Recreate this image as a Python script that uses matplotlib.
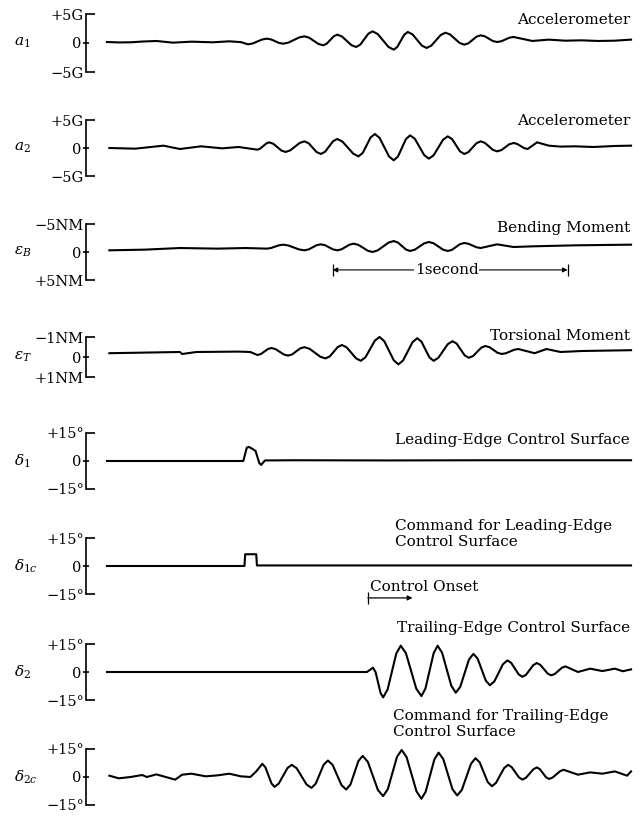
import matplotlib.pyplot as plt

# strip-chart records; time in seconds from the start of the record
a1_t = [0.00, 0.05, 0.10, 0.15, 0.21, 0.28, 0.36, 0.45, 0.52, 0.57,
        0.60, 0.62, 0.66, 0.68, 0.698, 0.732, 0.75, 0.772, 0.818, 0.84,
        0.86, 0.90, 0.92, 0.935, 0.965, 0.98, 1.00, 1.04, 1.06, 1.078,
        1.112, 1.13, 1.152, 1.198, 1.22, 1.235, 1.265, 1.28, 1.30, 1.34,
        1.36, 1.38, 1.42, 1.44, 1.46, 1.50, 1.52, 1.538, 1.572, 1.59,
        1.608, 1.642, 1.66, 1.678, 1.712, 1.73, 1.81, 1.88, 1.95, 2.02,
        2.09, 2.16, 2.23]
a1_v = [0.17, 0.10, 0.12, 0.25, 0.35, 0.06, 0.23, 0.12, 0.29, 0.15,
        -0.23, -0.08, 0.60, 0.75, 0.62, 0.01, -0.12, 0.07, 0.96, 1.15,
        0.92, -0.17, -0.40, -0.12, 1.16, 1.44, 1.12, -0.37, -0.69, -0.28,
        1.60, 2.01, 1.54, -0.68, -1.15, -0.69, 1.44, 1.90, 1.49, -0.45,
        -0.86, -0.46, 1.38, 1.78, 1.47, 0.02, -0.29, -0.05, 1.08, 1.32,
        1.15, 0.34, 0.17, 0.30, 0.91, 1.04, 0.35, 0.58, 0.40, 0.46,
        0.35, 0.40, 0.58]  # G

a2_t = [0.01, 0.12, 0.24, 0.31, 0.40, 0.49, 0.56, 0.64, 0.652, 0.678,
        0.69, 0.708, 0.742, 0.76, 0.78, 0.82, 0.84, 0.858, 0.892, 0.91,
        0.928, 0.962, 0.98, 1.002, 1.048, 1.07, 1.088, 1.122, 1.14, 1.16,
        1.20, 1.22, 1.238, 1.272, 1.29, 1.31, 1.35, 1.37, 1.39, 1.43,
        1.45, 1.468, 1.502, 1.52, 1.538, 1.572, 1.59, 1.608, 1.642, 1.66,
        1.678, 1.712, 1.73, 1.745, 1.775, 1.79, 1.83, 1.88, 1.93, 1.99,
        2.07, 2.16, 2.23]
a2_v = [0.00, -0.12, 0.42, -0.18, 0.30, -0.06, 0.18, -0.30, -0.10, 0.81,
        1.01, 0.75, -0.45, -0.71, -0.42, 0.90, 1.19, 0.85, -0.73, -1.07,
        -0.67, 1.21, 1.61, 1.14, -1.02, -1.49, -0.89, 1.90, 2.50, 1.80,
        -1.50, -2.20, -1.53, 1.59, 2.26, 1.64, -1.28, -1.90, -1.30, 1.48,
        2.08, 1.61, -0.60, -1.07, -0.73, 0.85, 1.19, 0.92, -0.33, -0.60,
        -0.38, 0.67, 0.89, 0.73, -0.02, -0.18, 1.01, 0.42, 0.25, 0.30,
        0.18, 0.36, 0.42]  # G

eb_t = [0.01, 0.16, 0.31, 0.47, 0.59, 0.68, 0.698, 0.732, 0.75, 0.772,
        0.818, 0.84, 0.858, 0.892, 0.91, 0.928, 0.962, 0.98, 0.998, 1.032,
        1.05, 1.07, 1.11, 1.13, 1.152, 1.198, 1.22, 1.238, 1.272, 1.29,
        1.31, 1.35, 1.37, 1.39, 1.43, 1.45, 1.468, 1.502, 1.52, 1.538,
        1.572, 1.59, 1.66, 1.73, 1.81, 1.99, 2.23]
eb_v = [-0.30, -0.42, -0.71, -0.60, -0.71, -0.60, -0.71, -1.20, -1.31, -1.16,
        -0.45, -0.30, -0.46, -1.21, -1.37, -1.21, -0.46, -0.30, -0.48, -1.31,
        -1.49, -1.27, -0.22, 0.00, -0.29, -1.67, -1.96, -1.69, -0.45, -0.18,
        -0.42, -1.55, -1.79, -1.55, -0.42, -0.18, -0.39, -1.40, -1.61, -1.47,
        -0.85, -0.71, -1.37, -0.89, -1.01, -1.19, -1.31]  # NM

et_t = [0.01, 0.16, 0.31, 0.32, 0.38, 0.56, 0.61, 0.64, 0.655, 0.685,
        0.70, 0.718, 0.752, 0.77, 0.788, 0.822, 0.84, 0.862, 0.908, 0.93,
        0.948, 0.982, 1.00, 1.02, 1.06, 1.08, 1.10, 1.14, 1.16, 1.18,
        1.22, 1.24, 1.26, 1.30, 1.32, 1.338, 1.372, 1.39, 1.41, 1.45,
        1.47, 1.488, 1.522, 1.54, 1.558, 1.592, 1.61, 1.628, 1.662, 1.68,
        1.698, 1.732, 1.75, 1.82, 1.87, 1.93, 2.02, 2.23]
et_v = [-0.19, -0.22, -0.25, -0.15, -0.25, -0.27, -0.25, -0.10, -0.15, -0.40,
        -0.45, -0.39, -0.13, -0.07, -0.13, -0.43, -0.49, -0.41, -0.01, 0.07,
        -0.03, -0.50, -0.60, -0.48, 0.07, 0.19, 0.01, -0.82, -1.00, -0.79,
        0.16, 0.37, 0.17, -0.74, -0.94, -0.77, 0.02, 0.19, 0.04, -0.64,
        -0.79, -0.67, -0.08, 0.04, -0.05, -0.46, -0.55, -0.49, -0.21, -0.15,
        -0.19, -0.36, -0.40, -0.19, -0.40, -0.25, -0.30, -0.34]  # NM

d1_t = [0.00, 0.30, 0.58, 0.595, 0.605, 0.62, 0.632, 0.648, 0.656, 0.672, 0.80, 1.20, 1.60, 2.23]
d1_v = [0.0, 0.0, 0.0, 7.2, 7.5, 6.4, 5.4, -1.1, -2.1, 0.3, 0.4, 0.3, 0.4, 0.4]  # deg

d1c_t = [0.00, 0.585, 0.588, 0.635, 0.638, 1.20, 2.23]
d1c_v = [0.0, 0.0, 6.3, 6.3, 0.3, 0.3, 0.3]  # deg

d2_t = [0.00, 0.60, 1.106, 1.132, 1.143, 1.164, 1.175, 1.194, 1.231, 1.250,
        1.272, 1.316, 1.338, 1.355, 1.390, 1.407, 1.426, 1.465, 1.484, 1.503,
        1.540, 1.559, 1.577, 1.612, 1.629, 1.648, 1.685, 1.704, 1.720, 1.752,
        1.768, 1.783, 1.814, 1.829, 1.844, 1.875, 1.890, 1.905, 1.936, 1.951,
        2.004, 2.056, 2.108, 2.161, 2.195, 2.230]
d2_v = [0.0, 0.0, 0.0, 2.3, -0.1, -11.2, -13.6, -9.4, 9.9, 14.1,
        10.1, -8.9, -12.9, -8.9, 10.1, 14.1, 10.3, -7.3, -11.1, -8.0,
        6.6, 9.7, 7.2, -4.6, -7.1, -5.1, 4.2, 6.2, 4.9, -1.3,
        -2.6, -1.5, 3.7, 4.8, 3.8, -0.8, -1.8, -1.1, 2.3, 3.0,
        0.0, 1.8, 0.5, 1.8, 0.4, 1.4]  # deg

d2c_t = [0.01, 0.05, 0.10, 0.15, 0.17, 0.21, 0.24, 0.29, 0.32, 0.36,
         0.42, 0.47, 0.52, 0.57, 0.61, 0.635, 0.661, 0.674, 0.700, 0.713,
         0.731, 0.768, 0.786, 0.807, 0.849, 0.870, 0.888, 0.922, 0.940, 0.960,
         0.998, 1.018, 1.036, 1.070, 1.088, 1.110, 1.153, 1.175, 1.195, 1.234,
         1.254, 1.275, 1.317, 1.338, 1.356, 1.393, 1.411, 1.431, 1.470, 1.490,
         1.510, 1.549, 1.568, 1.586, 1.620, 1.638, 1.655, 1.690, 1.707, 1.722,
         1.753, 1.768, 1.783, 1.814, 1.829, 1.842, 1.868, 1.881, 1.896, 1.928,
         1.943, 2.004, 2.056, 2.108, 2.161, 2.213, 2.23]
d2c_v = [0.71, -0.71, 0.0, 1.06, 0.0, 1.41, 0.35, -1.41, 1.24, 1.77,
         0.35, 0.88, 1.77, 0.35, 0.0, 3.0, 7.06, 5.2, -3.45, -5.30,
         -3.5, 4.8, 6.53, 4.7, -4.0, -5.83, -3.6, 6.6, 8.83, 6.5,
         -4.4, -6.71, -4.0, 8.6, 11.30, 8.1, -7.0, -10.24, -6.5, 10.8,
         14.47, 10.6, -7.7, -11.65, -7.9, 9.4, 13.06, 9.6, -6.5, -9.89,
         -6.9, 7.1, 10.06, 7.8, -2.7, -4.94, -3.2, 4.8, 6.53, 5.3,
         -0.2, -1.41, -0.4, 4.1, 5.12, 4.2, -0.1, -1.06, -0.3, 3.1,
         3.88, 1.24, 2.47, 1.77, 3.0, 0.71, 3.0]  # deg

bar_start, bar_len = 0.96, 1.0      # the "1second" scale bar
onset_t, onset_len = 1.11, 0.19     # control onset marker

# layout in pixels of the original page
W, H = 640, 817
X0, PX_PER_S = 107, 235
AX_LEFT, AX_RIGHT = 86, 636

plt.rcParams['font.family'] = 'DejaVu Serif'
plt.rcParams['mathtext.fontset'] = 'dejavuserif'

fig = plt.figure(figsize=(W / 100, H / 100), dpi=100)
xlim = ((AX_LEFT - X0) / PX_PER_S, (AX_RIGHT - X0) / PX_PER_S)

# symbol, zero line y, half height, full scale, tick labels, inverted, data
panels = [
    (r'$a_1$', 43, 29, 5, ('\u22125G', '+5G'), False, a1_t, a1_v),
    (r'$a_2$', 148, 28, 5, ('\u22125G', '+5G'), False, a2_t, a2_v),
    (r'$\varepsilon_B$', 252, 28, 5, ('\u22125NM', '+5NM'), True, eb_t, eb_v),
    (r'$\varepsilon_T$', 357, 20, 1, ('\u22121NM', '+1NM'), True, et_t, et_v),
    (r'$\delta_1$', 461, 28, 15, ('\u221215°', '+15°'), False, d1_t, d1_v),
    (r'$\delta_{1c}$', 566, 28, 15, ('\u221215°', '+15°'), False, d1c_t, d1c_v),
    (r'$\delta_2$', 672, 28, 15, ('\u221215°', '+15°'), False, d2_t, d2_v),
    (r'$\delta_{2c}$', 777, 28, 15, ('\u221215°', '+15°'), False, d2c_t, d2c_v),
]

axes = []
for sym, y0, h, fs, (lo, hi), inv, t, v in panels:
    ax = fig.add_axes([AX_LEFT / W, (H - y0 - 1.7 * h) / H,
                       (AX_RIGHT - AX_LEFT) / W, 3.4 * h / H])
    ax.patch.set_visible(False)
    ax.plot(t, v, color='black', lw=1.5, solid_joinstyle='round', clip_on=False)
    ax.set_xlim(xlim)
    ax.set_ylim((1.7 * fs, -1.7 * fs) if inv else (-1.7 * fs, 1.7 * fs))
    for s in ('top', 'right', 'bottom'):
        ax.spines[s].set_visible(False)
    ax.spines['left'].set_bounds(-fs, fs)
    ax.spines['left'].set_linewidth(1.2)
    ax.set_xticks([])
    ax.set_yticks([-fs, fs], labels=[lo, hi])
    ax.set_yticks([0], labels=['0'], minor=True)
    ax.tick_params(axis='y', which='major', direction='in', length=6.5, width=1.2,
                   pad=1.5, labelsize=10.5)
    ax.tick_params(axis='y', which='minor', direction='inout', length=4, width=1.2,
                   pad=1.5, labelsize=10.5)
    fig.text(14 / W, 1 - y0 / H, sym, fontsize=11, va='center')
    axes.append(ax)

# captions
cap = dict(fontsize=11, va='center')
fig.text(630 / W, 1 - 20 / H, 'Accelerometer', ha='right', **cap)
fig.text(630 / W, 1 - 121 / H, 'Accelerometer', ha='right', **cap)
fig.text(630 / W, 1 - 228 / H, 'Bending Moment', ha='right', **cap)
fig.text(630 / W, 1 - 336 / H, 'Torsional Moment', ha='right', **cap)
fig.text(630 / W, 1 - 440 / H, 'Leading-Edge Control Surface', ha='right', **cap)
fig.text(395 / W, 1 - 534 / H, 'Command for Leading-Edge\nControl Surface',
         ha='left', linespacing=1.1, **cap)
fig.text(630 / W, 1 - 628 / H, 'Trailing-Edge Control Surface', ha='right', **cap)
fig.text(393 / W, 1 - 724 / H, 'Command for Trailing-Edge\nControl Surface',
         ha='left', linespacing=1.1, **cap)

# 1 second scale bar under the bending moment trace
ax = axes[2]
yb = 3.2
ax.annotate('', xy=(bar_start, yb), xytext=(bar_start + bar_len, yb),
            arrowprops=dict(arrowstyle='<|-|>', lw=0.8, color='black',
                            shrinkA=0, shrinkB=0, mutation_scale=7))
ax.vlines([bar_start, bar_start + bar_len], yb - 1.1, yb + 1.1, color='black', lw=0.9)
ax.text(bar_start + bar_len / 2 - 0.015, yb, '1second', ha='center', va='center',
        fontsize=11, bbox=dict(fc='white', ec='none', pad=0.3))

# control onset marker under the leading-edge command trace
ax = axes[5]
yo = -17.1
ax.annotate('', xy=(onset_t + onset_len, yo), xytext=(onset_t, yo),
            arrowprops=dict(arrowstyle='-|>', lw=0.9, color='black',
                            shrinkA=0, shrinkB=0, mutation_scale=7))
ax.vlines([onset_t], yo - 3.2, yo + 3.2, color='black', lw=0.9)
ax.text(onset_t + 0.01, -11.3, 'Control Onset', ha='left', va='center', fontsize=11)

fig.savefig('out.png', dpi=100)
